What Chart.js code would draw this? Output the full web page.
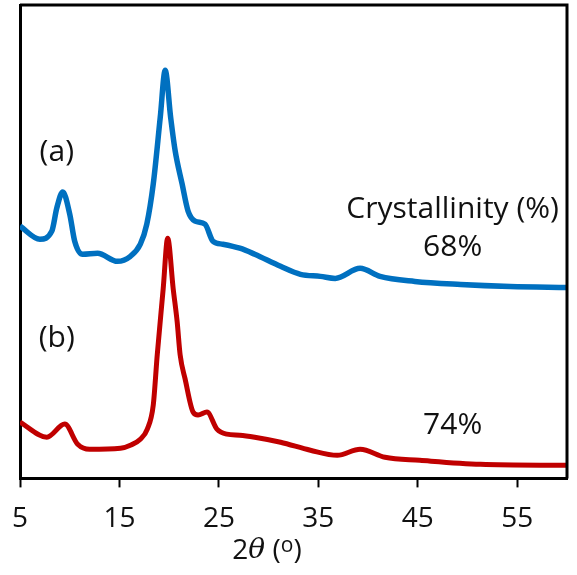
<!DOCTYPE html>
<html>
<head>
<meta charset="utf-8">
<script src="https://cdn.jsdelivr.net/npm/chart.js@4/dist/chart.umd.min.js"></script>
<style>
  html, body { margin: 0; padding: 0; background: #fff; }
  #wrap { width: 577px; height: 575px; }
</style>
</head>
<body>
<div id="wrap"><canvas id="myChart" width="577" height="575"></canvas></div>
<script>
// 2 theta positions and intensities (arbitrary units)
const blueX = [5.0, 7.0, 8.2, 8.7, 9.3, 10.0, 10.5, 11.3, 12.8, 14.8, 16.1, 17.1, 17.75, 18.4, 19.1, 19.6, 20.15, 20.6, 21.3, 21.9, 22.6, 23.6, 24.4, 25.4, 27.1, 28.6, 31.2, 33.2, 35.2, 36.7, 39.2, 41.2, 44.7, 49.3, 54.3, 60.0];
const blueY = [251, 238, 246, 269, 285, 263, 236, 223, 224, 216, 221, 233, 253, 293, 359, 406, 359, 326, 293, 266, 256, 253, 236, 233, 229, 223, 211, 203, 201, 199, 209, 201, 196, 193, 191, 190];

const redX = [5.0, 7.7, 9.5, 10.8, 12.0, 15.1, 16.1, 17.1, 17.8, 18.4, 18.8, 19.4, 19.85, 20.4, 20.8, 21.1, 21.6, 22.4, 22.9, 23.8, 24.8, 25.8, 27.1, 28.6, 31.2, 34.2, 36.9, 39.2, 41.7, 45.2, 51.3, 60.0];
const redY = [56, 41, 54, 34, 29, 30, 33, 39, 49, 73, 123, 189, 239, 189, 156, 123, 99, 66, 63, 66, 49, 44, 43, 41, 36, 28, 23, 29, 21, 18, 14, 13];

const xTicks = [5, 15, 25, 35, 45, 55];

// annotation texts with their spot in data units
const notes = [
    {text: '(a)', x: 8.7, y: 324},
    {text: '(b)', x: 8.7, y: 139},
    {text: 'Crystallinity (%)', x: 48.5, y: 268},
    {text: '68%', x: 48.5, y: 230},
    {text: '74%', x: 48.5, y: 53}
];

const FONT = '"Open Sans", "Noto Sans", sans-serif';

function toPoints(xs, ys) {
    return xs.map((x, i) => ({x: x, y: ys[i]}));
}

// box around the plot + text labels + axis title
const decor = {
    id: 'decor',
    afterDraw(chart) {
        const c = chart.ctx;
        const a = chart.chartArea;
        const sx = chart.scales.x, sy = chart.scales.y;
        c.save();
        c.strokeStyle = '#000';
        c.lineWidth = 3;
        c.beginPath();
        c.moveTo(a.left, a.top);
        c.lineTo(a.right, a.top);
        c.lineTo(a.right, a.bottom);
        c.stroke();

        c.fillStyle = '#111';
        c.font = '30px ' + FONT;
        c.textAlign = 'center';
        c.textBaseline = 'middle';
        notes.forEach(n => {
            c.fillText(n.text, sx.getPixelForValue(n.x), sy.getPixelForValue(n.y));
        });

        // axis title: 2θ (o)
        const parts = [
            {t: '2', f: '28px ' + FONT, dy: 0},
            {t: 'θ', f: 'italic 28px "DejaVu Serif", serif', dy: 0},
            {t: ' (', f: '28px ' + FONT, dy: 0},
            {t: 'o', f: '21px ' + FONT, dy: -5},
            {t: ')', f: '28px ' + FONT, dy: 0}
        ];
        let w = 0;
        parts.forEach(p => { c.font = p.f; p.w = c.measureText(p.t).width; w += p.w; });
        let x = 267 - w / 2;
        const y = 551;
        c.textAlign = 'left';
        parts.forEach(p => {
            c.font = p.f;
            c.fillText(p.t, x, y + p.dy);
            x += p.w;
        });
        c.restore();
    }
};

const ctx = document.getElementById('myChart').getContext('2d');
const myChart = new Chart(ctx, {
    type: 'line',
    data: {
        datasets: [
            {
                label: '(a)',
                data: toPoints(blueX, blueY),
                borderColor: '#0070C0',
                borderWidth: 5.5,
                pointRadius: 0,
                cubicInterpolationMode: 'monotone'
            },
            {
                label: '(b)',
                data: toPoints(redX, redY),
                borderColor: '#C00000',
                borderWidth: 5,
                pointRadius: 0,
                cubicInterpolationMode: 'monotone'
            }
        ]
    },
    options: {
        responsive: false,
        animation: false,
        layout: {padding: {left: 10, right: 10, top: 5, bottom: 24}},
        plugins: {legend: {display: false}, tooltip: {enabled: false}},
        scales: {
            x: {
                type: 'linear',
                min: 5,
                max: 60,
                afterBuildTicks: scale => { scale.ticks = xTicks.map(v => ({value: v})); },
                afterFit: scale => { scale.paddingLeft = 0; scale.paddingRight = 0; },
                grid: {drawOnChartArea: false, drawTicks: true, tickLength: 9, tickWidth: 2, tickColor: '#000'},
                border: {display: true, color: '#000', width: 3},
                ticks: {color: '#111', font: {family: FONT, size: 28}, padding: 15, maxRotation: 0, autoSkip: false}
            },
            y: {
                min: 0,
                max: 471,
                afterFit: scale => { scale.width = 10; },
                grid: {display: false, drawTicks: false},
                border: {display: true, color: '#000', width: 3},
                ticks: {display: false}
            }
        }
    },
    plugins: [decor]
});
</script>
</body>
</html>
